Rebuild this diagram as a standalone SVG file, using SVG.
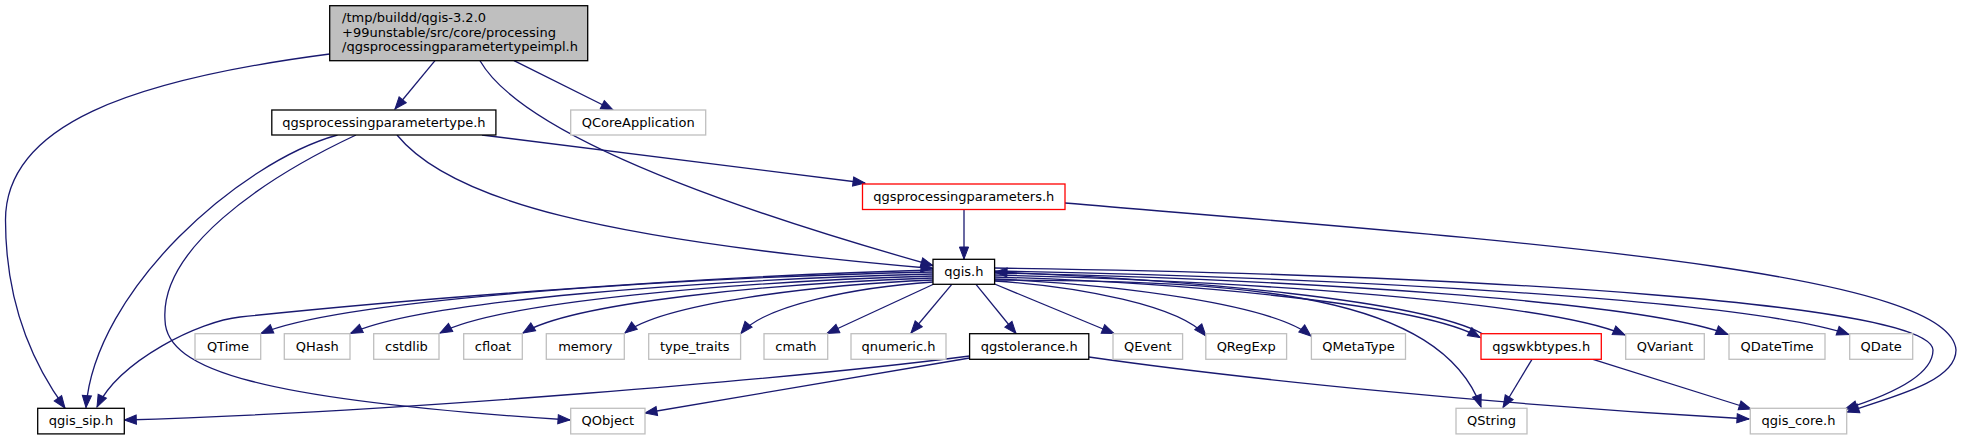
<svg xmlns="http://www.w3.org/2000/svg" width="1962" height="440" viewBox="0 0 1962 440">
<style>
.n{fill:#fff;stroke:#000;stroke-width:1.3}
.g{fill:#fff;stroke:#bfbfbf;stroke-width:1.3}
.r{fill:#fff;stroke:#ff0000;stroke-width:1.3}
.m{fill:#bfbfbf;stroke:#000;stroke-width:1.3}
text{font-family:"DejaVu Sans","Liberation Sans",sans-serif;font-size:13px;fill:#000;text-anchor:middle}
text.l{text-anchor:start}
#edges path{fill:none;stroke:#191970;stroke-width:1.3;marker-end:url(#ah)}
</style>
<defs>
<marker id="ah" markerUnits="userSpaceOnUse" markerWidth="13" markerHeight="10" refX="12" refY="4.6" orient="auto" overflow="visible">
<path d="M0,0 L12,4.6 L0,9.2 z" fill="#191970" stroke="#191970" stroke-width="1"/>
</marker>
</defs>
<rect x="0" y="0" width="1962" height="440" fill="#fff"/>
<g id="edges">
<path d="M329.7,54 C130,80 5.5,125 5.5,220 C5.5,300 30,360 65,408"/>
<path d="M435,60.7 L395,109"/>
<path d="M480,60.7 C520,130 700,200 933,265.5"/>
<path d="M514,60.7 L613,110"/>
<path d="M337.5,135 C240,162 95,290 86,407.5"/>
<path d="M356,135 C260,180 160,250 165,320 C166,370 260,400 570,420"/>
<path d="M397,135 C450,200 600,240 933,268.5"/>
<path d="M482,135 L865,183"/>
<path d="M964,210 L964,259"/>
<path d="M1065,203 C1500,240 1950,270 1956,350 C1956,380 1900,395 1847,412"/>
<path d="M933,270 C700,276 400,300 240,317 C200,321 120,360 97,407"/>
<path d="M933,272 C664.2,278.2 341.6,299.7 261,333.5"/>
<path d="M933,274 C700,280 420.4,300.8 350.5,333.5"/>
<path d="M933,276 C735.8,281.7 499.2,301.7 440,333"/>
<path d="M933,278 C769,283.5 572.2,302.8 523,333"/>
<path d="M933,280 C809.8,285.3 662,303.9 625,333"/>
<path d="M933,282 C856.2,287.2 764,305.2 741,333.5"/>
<path d="M934,284 L827,333.5"/>
<path d="M951.8,284.3 L911,333"/>
<path d="M976,284.3 L1016,333.5"/>
<path d="M994.6,284 L1114,333.5"/>
<path d="M994.6,281 C1079.2,286.5 1180.6,305.8 1206,336"/>
<path d="M994.6,279 C1121.2,284.7 1273,304.7 1311,336"/>
<path d="M994.6,277 C1188.8,283 1421.8,304.2 1480,337.5"/>
<path d="M994.6,275 C1246.8,281 1549.4,302 1625,335"/>
<path d="M994.6,273 C1288,279.2 1640,300.7 1728,334.5"/>
<path d="M994.6,271 C1336.4,277.4 1746.5,299.6 1849,334.5"/>
<path d="M994.6,280 C1250,280 1440,295 1481,407"/>
<path d="M994.6,268 C1500,275 1930,305 1933,350 C1933,375 1890,395 1845,409"/>
<path d="M1483,334 C1420,300 1190,280 995,272"/>
<path d="M1532,359.3 L1503,407.5"/>
<path d="M1593,359.3 L1751,409"/>
<path d="M969.6,356 C800,378 400,412 124.3,420"/>
<path d="M969.6,358 L645,413"/>
<path d="M1088.8,357 C1250,380 1500,405 1749,419"/>
</g>
<g id="main"><rect class="m" x="329.7" y="5.7" width="258" height="55"/>
<text class="l" x="342" y="22">/tmp/buildd/qgis-3.2.0</text>
<text class="l" x="342" y="36.5">+99unstable/src/core/processing</text>
<text class="l" x="342" y="51">/qgsprocessingparametertypeimpl.h</text></g>
<g id="n_ppt"><rect class="n" x="271.8" y="110" width="224.1" height="25"/><text x="383.9" y="126.8">qgsprocessingparametertype.h</text></g>
<g id="n_qcoreapp"><rect class="g" x="570.7" y="110" width="135" height="25"/><text x="638.2" y="126.8">QCoreApplication</text></g>
<g id="n_pp"><rect class="r" x="862.5" y="184" width="202.5" height="25.5"/><text x="963.8" y="201">qgsprocessingparameters.h</text></g>
<g id="n_qgis"><rect class="n" x="933" y="259.3" width="61.6" height="25"/><text x="963.8" y="276">qgis.h</text></g>
<g id="n_qtime"><rect class="g" x="195" y="333.7" width="65.7" height="25.6"/><text x="227.9" y="350.5">QTime</text></g>
<g id="n_qhash"><rect class="g" x="284.3" y="333.7" width="65.7" height="25.6"/><text x="317.2" y="350.5">QHash</text></g>
<g id="n_cstdlib"><rect class="g" x="373.7" y="333.7" width="65.3" height="25.6"/><text x="406.4" y="350.5">cstdlib</text></g>
<g id="n_cfloat"><rect class="g" x="463.7" y="333.7" width="58.6" height="25.6"/><text x="493" y="350.5">cfloat</text></g>
<g id="n_memory"><rect class="g" x="546.3" y="333.7" width="78" height="25.6"/><text x="585.3" y="350.5">memory</text></g>
<g id="n_type_traits"><rect class="g" x="648.7" y="333.7" width="91.9" height="25.6"/><text x="694.7" y="350.5">type_traits</text></g>
<g id="n_cmath"><rect class="g" x="764" y="333.7" width="63.7" height="25.6"/><text x="795.9" y="350.5">cmath</text></g>
<g id="n_qnumeric"><rect class="g" x="851" y="333.7" width="95" height="25.6"/><text x="898.5" y="350.5">qnumeric.h</text></g>
<g id="n_qgstolerance"><rect class="n" x="969.6" y="333.7" width="119.2" height="25.6"/><text x="1029.2" y="350.5">qgstolerance.h</text></g>
<g id="n_qevent"><rect class="g" x="1113" y="333.7" width="69.6" height="25.6"/><text x="1147.8" y="350.5">QEvent</text></g>
<g id="n_qregexp"><rect class="g" x="1205.8" y="333.7" width="80.8" height="25.6"/><text x="1246.2" y="350.5">QRegExp</text></g>
<g id="n_qmetatype"><rect class="g" x="1311.4" y="333.7" width="94.1" height="25.6"/><text x="1358.5" y="350.5">QMetaType</text></g>
<g id="n_qgswkbtypes"><rect class="r" x="1481" y="333.7" width="120.3" height="25.6"/><text x="1541.2" y="350.5">qgswkbtypes.h</text></g>
<g id="n_qvariant"><rect class="g" x="1625.7" y="333.7" width="78.6" height="25.6"/><text x="1665" y="350.5">QVariant</text></g>
<g id="n_qdatetime"><rect class="g" x="1729" y="333.7" width="96" height="25.6"/><text x="1777" y="350.5">QDateTime</text></g>
<g id="n_qdate"><rect class="g" x="1849.7" y="333.7" width="63" height="25.6"/><text x="1881.2" y="350.5">QDate</text></g>
<g id="n_qgis_sip"><rect class="n" x="37.7" y="408.3" width="86.6" height="25.6"/><text x="81" y="425">qgis_sip.h</text></g>
<g id="n_qobject"><rect class="g" x="570.7" y="408.3" width="74.3" height="25.6"/><text x="607.9" y="425">QObject</text></g>
<g id="n_qstring"><rect class="g" x="1456" y="408.3" width="71" height="25.6"/><text x="1491.5" y="425">QString</text></g>
<g id="n_qgis_core"><rect class="g" x="1750.3" y="408.3" width="96.4" height="25.6"/><text x="1798.5" y="425">qgis_core.h</text></g>
</svg>
